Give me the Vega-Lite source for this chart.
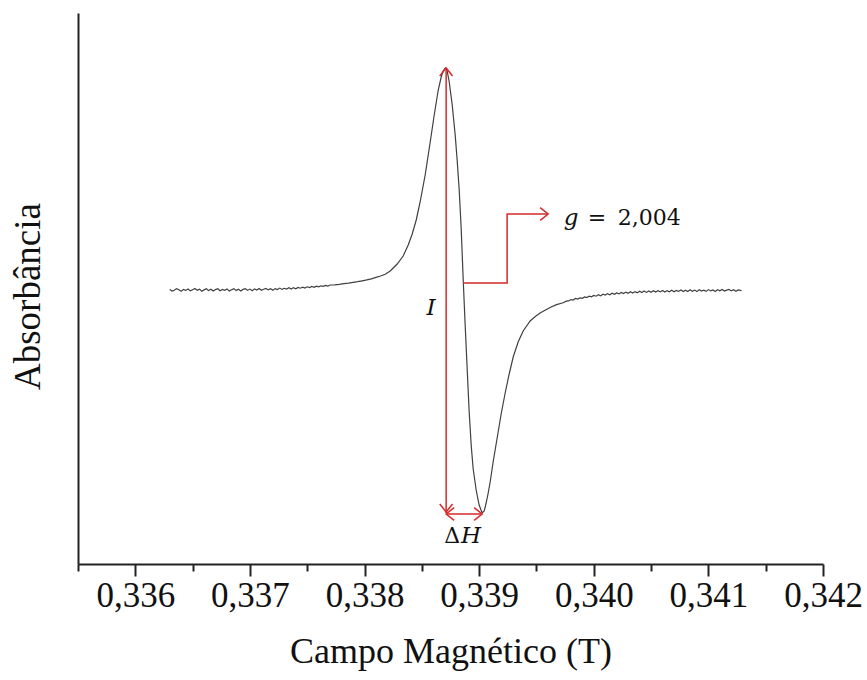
{
  "$schema": "https://vega.github.io/schema/vega-lite/v6.json",
  "width": 745,
  "height": 551,
  "autosize": {"type": "none"},
  "padding": {"left": 78, "top": 13, "right": 44, "bottom": 116},
  "background": "white",
  "config": {"view": {"stroke": null}},
  "resolve": {"axis": {"x": "independent"}},
  "layer": [
    {
      "data": {"values": [
        {"x":0.33630,"y":0.5},{"x":0.33632,"y":-1.1},{"x":0.33634,"y":-0.3},{"x":0.33636,"y":1.4},{"x":0.33638,"y":0.2},{"x":0.33640,"y":-1.3},{"x":0.33642,"y":0.6},{"x":0.33644,"y":-0.4},{"x":0.33646,"y":1.0},
        {"x":0.33648,"y":-0.9},{"x":0.33650,"y":0.3},{"x":0.33652,"y":1.5},{"x":0.33654,"y":-0.2},{"x":0.33656,"y":0.9},{"x":0.33658,"y":-1.2},{"x":0.33660,"y":0.1},{"x":0.33662,"y":1.3},{"x":0.33664,"y":-0.6},
        {"x":0.33666,"y":0.7},{"x":0.33668,"y":-1.0},{"x":0.33670,"y":0.4},{"x":0.33672,"y":1.2},{"x":0.33674,"y":-0.8},{"x":0.33676,"y":0.5},{"x":0.33678,"y":-0.3},{"x":0.33680,"y":1.1},{"x":0.33682,"y":-1.0},
        {"x":0.33684,"y":0.2},{"x":0.33686,"y":1.4},{"x":0.33688,"y":-0.5},{"x":0.33690,"y":0.8},{"x":0.33692,"y":-0.9},{"x":0.33694,"y":0.6},{"x":0.33696,"y":1.3},{"x":0.33698,"y":-0.4},{"x":0.33700,"y":0.9},
        {"x":0.33702,"y":-0.7},{"x":0.33704,"y":1.1},{"x":0.33706,"y":0.0},{"x":0.33708,"y":1.5},{"x":0.33710,"y":-0.3},{"x":0.33712,"y":0.8},{"x":0.33714,"y":1.6},{"x":0.33716,"y":0.1},{"x":0.33718,"y":1.2},
        {"x":0.33720,"y":-0.2},{"x":0.33722,"y":1.4},{"x":0.33724,"y":0.5},{"x":0.33726,"y":1.9},{"x":0.33728,"y":0.6},{"x":0.33730,"y":1.7},{"x":0.33732,"y":0.9},{"x":0.33734,"y":2.2},{"x":0.33736,"y":1.0},
        {"x":0.33738,"y":2.4},{"x":0.33740,"y":1.3},{"x":0.33742,"y":2.6},{"x":0.33744,"y":1.8},{"x":0.33746,"y":2.9},{"x":0.33748,"y":2.0},{"x":0.33750,"y":3.2},{"x":0.33752,"y":2.4},{"x":0.33754,"y":3.5},
        {"x":0.33756,"y":2.7},{"x":0.33758,"y":3.9},{"x":0.33760,"y":3.1},{"x":0.33762,"y":4.2},{"x":0.33764,"y":3.6},{"x":0.33766,"y":4.6},{"x":0.33768,"y":4.0},{"x":0.33770,"y":5.0},
        {"x":0.33774,"y":5.1},{"x":0.33778,"y":5.6},{"x":0.33782,"y":6.4},{"x":0.33786,"y":6.8},
        {"x":0.33790,"y":7.6},{"x":0.33794,"y":8.3},{"x":0.33798,"y":9.2},{"x":0.33802,"y":10.1},{"x":0.33806,"y":11.2},
        {"x":0.33810,"y":12.6},{"x":0.33814,"y":14.0},{"x":0.338180,"y":15.8},{"x":0.338224,"y":19},{"x":0.338285,"y":26},
        {"x":0.338337,"y":34},{"x":0.338381,"y":45},{"x":0.338416,"y":56},{"x":0.338451,"y":70},{"x":0.338485,"y":88},
        {"x":0.338529,"y":115},{"x":0.338573,"y":148},{"x":0.338608,"y":175},{"x":0.338643,"y":200},{"x":0.338669,"y":213},
        {"x":0.338686,"y":219},{"x":0.338704,"y":222},{"x":0.338721,"y":219},{"x":0.338739,"y":208},{"x":0.338765,"y":185},
        {"x":0.338791,"y":155},{"x":0.338808,"y":130},{"x":0.338826,"y":100},{"x":0.338843,"y":62},{"x":0.338861,"y":10},
        {"x":0.338878,"y":-35},{"x":0.338896,"y":-80},{"x":0.338913,"y":-122},{"x":0.338931,"y":-156},{"x":0.338948,"y":-179},
        {"x":0.338974,"y":-200},{"x":0.339000,"y":-215},{"x":0.339026,"y":-223},{"x":0.339044,"y":-221},{"x":0.339061,"y":-213},
        {"x":0.339079,"y":-203},{"x":0.339096,"y":-192},{"x":0.339122,"y":-172},{"x":0.339157,"y":-148},{"x":0.339192,"y":-124},
        {"x":0.339227,"y":-103},{"x":0.339262,"y":-84},{"x":0.339297,"y":-67},{"x":0.339340,"y":-52},{"x":0.339384,"y":-41},
        {"x":0.339445,"y":-31},{"x":0.339490,"y":-26.5},{"x":0.339532,"y":-23},{"x":0.339575,"y":-20.2},{"x":0.339619,"y":-17.5},{"x":0.339675,"y":-14.6},{"x":0.339733,"y":-12.8},
        {"x":0.33976,"y":-11.2},{"x":0.33978,"y":-10.9},{"x":0.33980,"y":-9.6},{"x":0.33982,"y":-10.0},{"x":0.33984,"y":-8.5},{"x":0.33986,"y":-9.1},{"x":0.33988,"y":-7.8},{"x":0.33990,"y":-8.3},{"x":0.33992,"y":-6.9},
        {"x":0.33994,"y":-7.6},{"x":0.33996,"y":-6.1},{"x":0.33998,"y":-6.8},{"x":0.34000,"y":-5.4},{"x":0.34002,"y":-6.2},{"x":0.34004,"y":-4.8},{"x":0.34006,"y":-5.9},{"x":0.34008,"y":-4.2},{"x":0.34010,"y":-5.1},
        {"x":0.34012,"y":-3.6},{"x":0.34014,"y":-4.7},{"x":0.34016,"y":-3.2},{"x":0.34018,"y":-4.3},{"x":0.34020,"y":-2.9},{"x":0.34022,"y":-3.9},{"x":0.34024,"y":-2.4},{"x":0.34026,"y":-3.6},{"x":0.34028,"y":-2.1},
        {"x":0.34030,"y":-3.3},{"x":0.34032,"y":-1.8},{"x":0.34034,"y":-3.0},{"x":0.34036,"y":-1.6},{"x":0.34038,"y":-2.8},{"x":0.34040,"y":-1.2},{"x":0.34042,"y":-2.6},{"x":0.34044,"y":-1.0},{"x":0.34046,"y":-2.4},
        {"x":0.34048,"y":-0.9},{"x":0.34050,"y":-2.2},{"x":0.34052,"y":-0.7},{"x":0.34054,"y":-2.1},{"x":0.34056,"y":-0.8},{"x":0.34058,"y":-1.9},{"x":0.34060,"y":-0.4},{"x":0.34062,"y":-2.0},{"x":0.34064,"y":-0.6},
        {"x":0.34066,"y":-1.7},{"x":0.34068,"y":-0.2},{"x":0.34070,"y":-1.8},{"x":0.34072,"y":-0.5},{"x":0.34074,"y":-1.4},{"x":0.34076,"y":0.1},{"x":0.34078,"y":-1.6},{"x":0.34080,"y":-0.3},{"x":0.34082,"y":-1.5},
        {"x":0.34084,"y":0.2},{"x":0.34086,"y":-1.2},{"x":0.34088,"y":-0.1},{"x":0.34090,"y":-1.6},{"x":0.34092,"y":0.3},{"x":0.34094,"y":-1.0},{"x":0.34096,"y":-0.2},{"x":0.34098,"y":-1.4},{"x":0.34100,"y":0.4},
        {"x":0.34102,"y":-0.9},{"x":0.34104,"y":0.0},{"x":0.34106,"y":-1.5},{"x":0.34108,"y":0.2},{"x":0.34110,"y":-0.8},{"x":0.34112,"y":0.5},{"x":0.34114,"y":-1.1},{"x":0.34116,"y":-0.1},{"x":0.34118,"y":0.6},
        {"x":0.34120,"y":-0.9},{"x":0.34122,"y":0.3},{"x":0.34124,"y":-1.2},{"x":0.34126,"y":0.1},{"x":0.34129,"y":-0.7}
      ]},
      "mark": {"type": "line", "color": "#404040", "strokeWidth": 1.2, "interpolate": "linear"},
      "encoding": {
        "x": {
          "field": "x", "type": "quantitative",
          "scale": {"domain": [0.3355, 0.342], "nice": false, "zero": false},
          "axis": {
            "orient": "bottom",
            "title": "Campo Magnético (T)",
            "values": [0.336,0.337,0.338,0.339,0.340,0.341,0.342],
            "labelExpr": "replace(format(datum.value,'.3f'),'.',',')",
            "labelOverlap": false,
            "labelFlush": false,
            "labelFont": "Liberation Serif",
            "labelFontSize": 35,
            "labelColor": "#111111",
            "labelPadding": 2,
            "titleFont": "Liberation Serif",
            "titleFontSize": 36,
            "titleFontWeight": "normal",
            "titleColor": "#111111",
            "titlePadding": 21,
            "grid": false,
            "domainColor": "#222222",
            "domainWidth": 2,
            "tickColor": "#222222",
            "tickWidth": 2,
            "tickSize": 12
          }
        },
        "y": {
          "field": "y", "type": "quantitative",
          "scale": {"domain": [-274, 277], "nice": false, "zero": false},
          "axis": {
            "title": "Absorbância",
            "labels": false,
            "ticks": false,
            "grid": false,
            "domainColor": "#222222",
            "domainWidth": 2,
            "titleFont": "Liberation Serif",
            "titleFontSize": 37,
            "titleFontWeight": "normal",
            "titleColor": "#111111",
            "titlePadding": 31,
            "titleY": 283
          }
        }
      }
    },
    {
      "data": {"values": [{"x": 0.338712, "y": -223, "y2": 222}]},
      "mark": {"type": "rule", "color": "#d42a2a", "strokeWidth": 1.5},
      "encoding": {
        "x": {
          "field": "x", "type": "quantitative",
          "axis": {
            "orient": "bottom",
            "title": null,
            "values": [0.3355,0.3365,0.3375,0.3385,0.3395,0.3405,0.3415],
            "labels": false,
            "domain": false,
            "grid": false,
            "tickColor": "#222222",
            "tickWidth": 2,
            "tickSize": 7
          }
        },
        "y": {"field": "y", "type": "quantitative"},
        "y2": {"field": "y2"}
      }
    },
    {
      "data": {"values": [{"x": 0.338712, "x2": 0.339026, "y": -224}]},
      "mark": {"type": "rule", "color": "#d42a2a", "strokeWidth": 1.5},
      "encoding": {
        "x": {"field": "x", "type": "quantitative", "axis": null},
        "x2": {"field": "x2"},
        "y": {"field": "y", "type": "quantitative"}
      }
    },
    {
      "data": {"values": [
        {"x": 0.338860, "y": 7, "o": 1},
        {"x": 0.339244, "y": 7, "o": 2},
        {"x": 0.339244, "y": 76, "o": 3},
        {"x": 0.339600, "y": 76, "o": 4}
      ]},
      "mark": {"type": "line", "color": "#d42a2a", "strokeWidth": 1.5},
      "encoding": {
        "x": {"field": "x", "type": "quantitative", "axis": null},
        "y": {"field": "y", "type": "quantitative"},
        "order": {"field": "o", "type": "quantitative"}
      }
    },
    {
      "data": {"values": [
        {"x": 0.338712, "y": 222, "a": 0},
        {"x": 0.338712, "y": -222, "a": 180},
        {"x": 0.338712, "y": -224, "a": 270},
        {"x": 0.339026, "y": -224, "a": 90},
        {"x": 0.339602, "y": 76, "a": 90}
      ]},
      "mark": {"type": "point", "shape": "M -0.8 1 L 0 0 L 0.8 1", "filled": false, "stroke": "#d42a2a", "strokeWidth": 1.5, "size": 256, "opacity": 1},
      "encoding": {
        "x": {"field": "x", "type": "quantitative", "axis": null},
        "y": {"field": "y", "type": "quantitative"},
        "angle": {"field": "a", "type": "quantitative", "scale": null}
      }
    },
    {
      "data": {"values": [
        {"x": 0.339802, "y": 65, "t": "g"},
        {"x": 0.338581, "y": -25, "t": "I"},
        {"x": 0.338930, "y": -253, "t": "H"}
      ]},
      "mark": {"type": "text", "font": "DejaVu Serif", "fontStyle": "italic", "fontSize": 23, "baseline": "alphabetic", "align": "center", "color": "#111111"},
      "encoding": {
        "x": {"field": "x", "type": "quantitative", "axis": null},
        "y": {"field": "y", "type": "quantitative"},
        "text": {"field": "t"}
      }
    },
    {
      "data": {"values": [
        {"x": 0.340029, "y": 65, "t": "="},
        {"x": 0.340483, "y": 65, "t": "2,004"},
        {"x": 0.338764, "y": -253, "t": "Δ"}
      ]},
      "mark": {"type": "text", "font": "DejaVu Serif", "fontSize": 22, "baseline": "alphabetic", "align": "center", "color": "#111111"},
      "encoding": {
        "x": {"field": "x", "type": "quantitative", "axis": null},
        "y": {"field": "y", "type": "quantitative"},
        "text": {"field": "t"}
      }
    }
  ]
}
